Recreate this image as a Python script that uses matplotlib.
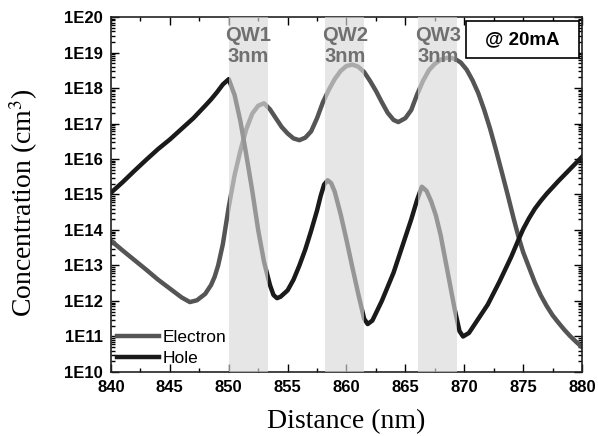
import numpy as np
import matplotlib
matplotlib.use('Agg')
import matplotlib.pyplot as plt
from matplotlib.ticker import LogLocator, FuncFormatter, MultipleLocator
from matplotlib.patches import Rectangle

# distance (nm) and log10 of concentration
hole_x = [840.0, 841.0, 842.0, 843.0, 844.0, 845.0, 846.0, 847.0, 848.0, 848.5,
          849.0, 849.5, 850.0, 850.5, 851.0, 851.5, 852.0, 852.5, 853.0, 853.5,
          853.8, 854.1, 854.4, 855.0, 855.5, 856.0, 856.5, 857.0, 857.5, 857.8,
          858.1, 858.4, 858.7, 859.0, 859.5, 860.0, 860.5, 861.0, 861.5, 861.8,
          862.2, 863.0, 864.0, 865.0, 865.5, 866.0, 866.4, 866.8, 867.2, 867.6,
          868.0, 868.4, 868.8, 869.2, 869.6, 869.9, 870.4, 871.0, 872.0, 873.0,
          874.0, 874.6, 875.0, 875.5, 876.0, 876.5, 877.0, 878.0, 879.0, 880.0]
hole_log = [15.05, 15.35, 15.67, 15.98, 16.28, 16.55, 16.85, 17.15, 17.50, 17.68,
            17.88, 18.10, 18.25, 17.80, 17.05, 16.10, 15.10, 14.00, 13.10, 12.45,
            12.17, 12.08, 12.12, 12.30, 12.60, 13.00, 13.45, 13.98, 14.55, 14.95,
            15.28, 15.40, 15.32, 15.08, 14.45, 13.72, 12.95, 12.20, 11.50, 11.35,
            11.45, 12.00, 12.80, 13.80, 14.30, 14.85, 15.22, 15.10, 14.80, 14.40,
            13.85, 13.15, 12.45, 11.75, 11.15, 11.00, 11.10, 11.40, 11.90, 12.55,
            13.25, 13.72, 14.02, 14.33, 14.60, 14.82, 15.02, 15.38, 15.72, 16.06]

elec_x = [840.0, 841.0, 842.0, 843.0, 844.0, 845.0, 846.0, 846.7, 847.3, 848.0,
          848.5, 848.8, 849.1, 849.5, 850.0, 850.5, 851.0, 851.5, 852.0, 852.5,
          853.0, 853.5, 854.0, 854.5, 855.0, 855.5, 856.0, 856.5, 857.0, 857.5,
          858.0, 858.5, 859.0, 859.5, 860.0, 860.5, 861.0, 861.5, 862.0, 862.5,
          863.0, 863.5, 864.0, 864.4, 865.0, 865.5, 866.0, 866.5, 867.0, 867.5,
          868.0, 868.7, 869.2, 869.7, 870.2, 870.7, 871.2, 871.7, 872.2, 872.7,
          873.2, 873.7, 874.2, 874.6, 875.0, 875.5, 876.0, 876.5, 877.0, 877.5,
          878.0, 878.5, 879.0, 879.5, 880.0]
elec_log = [13.70, 13.42, 13.15, 12.88, 12.60, 12.35, 12.10, 11.97, 12.02, 12.20,
            12.45, 12.68, 13.00, 13.60, 14.65, 15.55, 16.25, 16.85, 17.28, 17.50,
            17.57, 17.40, 17.15, 16.90, 16.72, 16.58, 16.53, 16.60, 16.78, 17.15,
            17.60, 17.95, 18.25, 18.48, 18.62, 18.66, 18.60, 18.45, 18.20, 17.92,
            17.60, 17.30, 17.10, 17.04, 17.15, 17.38, 17.82, 18.20, 18.50, 18.68,
            18.80, 18.86, 18.82, 18.72, 18.52, 18.22, 17.85, 17.38, 16.85, 16.25,
            15.62, 14.98, 14.32, 13.82, 13.38, 12.95, 12.52, 12.16, 11.86, 11.60,
            11.39, 11.19, 11.01, 10.85, 10.70]

wells = [(850.0, 853.3), (858.2, 861.5), (866.1, 869.4)]
well_labels = ['QW1\n3nm', 'QW2\n3nm', 'QW3\n3nm']

plt.rcParams['font.family'] = 'Liberation Sans'
plt.rcParams['mathtext.fontset'] = 'stix'

fig = plt.figure(figsize=(5.98, 4.36), dpi=100)
ax = fig.add_axes([0.1856, 0.1468, 0.7876, 0.8142])

ax.plot(elec_x, 10 ** np.array(elec_log), color='#555555', lw=3.2, label='Electron', zorder=2)
ax.plot(hole_x, 10 ** np.array(hole_log), color='#1a1a1a', lw=3.2, label='Hole', zorder=2)

for (a, b), lab in zip(wells, well_labels):
    ax.axvspan(a, b, color='#d9d9d9', alpha=0.65, lw=0, zorder=3)
    ax.text((a + b) / 2, 10 ** 19.74, lab, ha='center', va='top', fontsize=14.5,
            fontweight='bold', color='#707070', linespacing=1.15, zorder=4)

ax.set_yscale('log')
ax.set_xlim(840, 880)
ax.set_ylim(1e10, 1e20)
ax.xaxis.set_major_locator(MultipleLocator(5))
ax.xaxis.set_minor_locator(MultipleLocator(2.5))
ax.yaxis.set_major_locator(LogLocator(base=10, numticks=20))
ax.yaxis.set_minor_locator(LogLocator(base=10, subs=np.arange(2, 10), numticks=20))
ax.yaxis.set_major_formatter(FuncFormatter(lambda v, p: '1E%d' % round(np.log10(v))))
ax.tick_params(which='both', direction='in', top=True, right=True, width=1.0)
ax.tick_params(which='major', length=6, labelsize=12, pad=6)
ax.tick_params(which='minor', length=3)
for t in ax.get_xticklabels() + ax.get_yticklabels():
    t.set_fontweight('bold')
for s in ax.spines.values():
    s.set_linewidth(1.2)
    s.set_color('#222222')

ax.set_xlabel('Distance (nm)', family='Liberation Serif', fontsize=20, labelpad=10)
fig.text(0.040, 0.534, 'Concentration (cm$^{3}$)', family='Liberation Serif', fontsize=20,
         rotation=90, ha='center', va='center')

ax.add_patch(Rectangle((0.754, 0.885), 0.240, 0.104, transform=ax.transAxes,
                       facecolor='white', edgecolor='black', lw=1.2, zorder=5))
ax.text(0.874, 0.937, '@ 20mA', transform=ax.transAxes, ha='center', va='center',
        fontsize=13.5, fontweight='bold', zorder=6)

ax.legend(loc='lower left', frameon=False, fontsize=12.5, handlelength=2.4,
          handletextpad=0.2, borderaxespad=0.1, labelspacing=0.35,
          bbox_to_anchor=(-0.005, -0.008))

fig.savefig('out.png', dpi=100)
